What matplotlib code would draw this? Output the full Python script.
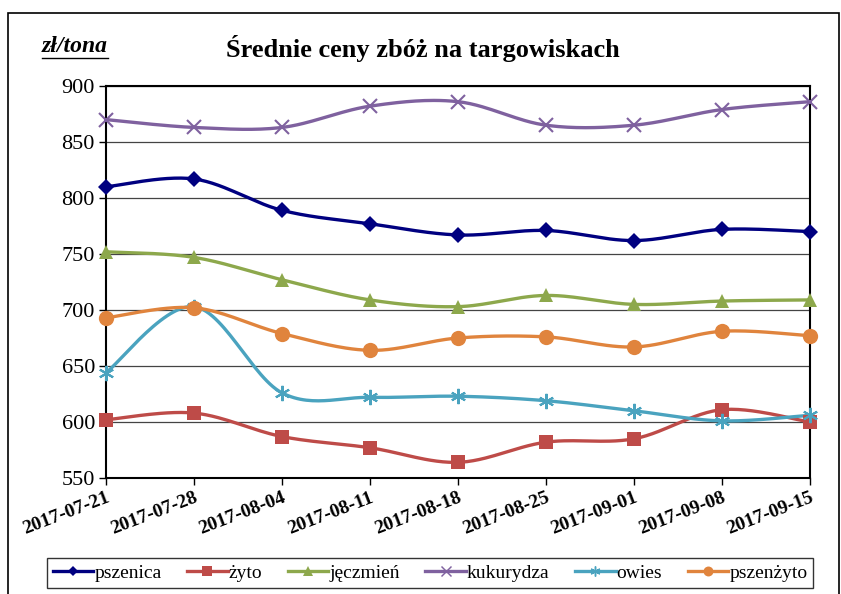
import numpy as np
import matplotlib
matplotlib.use("Agg")
import matplotlib.pyplot as plt
from matplotlib.lines import Line2D
from matplotlib.patches import Rectangle

plt.rcParams['font.family'] = ['Liberation Serif', 'DejaVu Serif']

dates = ["2017-07-21", "2017-07-28", "2017-08-04", "2017-08-11", "2017-08-18",
         "2017-08-25", "2017-09-01", "2017-09-08", "2017-09-15"]
pszenica = [810, 817, 789, 777, 767, 771, 762, 772, 770]
zyto = [602, 608, 587, 577, 564, 582, 585, 611, 600]
jeczmien = [752, 747, 727, 709, 703, 713, 705, 708, 709]
kukurydza = [870, 863, 863, 882, 886, 865, 865, 879, 886]
owies = [644, 703, 626, 622, 623, 619, 610, 601, 606]
pszenzyto = [693, 702, 679, 664, 675, 676, 667, 681, 677]

series = [
    ("pszenica", pszenica, "#000080", "D", 8),
    ("żyto", zyto, "#BE4B48", "s", 10),
    ("jęczmień", jeczmien, "#8DA84C", "^", 10),
    ("kukurydza", kukurydza, "#7F619F", "x", 10),
    ("owies", owies, "#4AA3BF", (6, 2, 0), 11),
    ("pszenżyto", pszenzyto, "#E0843D", "o", 11),
]


def smooth(x, y, n=30):
    # Catmull-Rom style smoothing, like Excel's "smoothed line"
    x = np.asarray(x, float)
    y = np.asarray(y, float)
    px = np.concatenate([[x[0]], x, [x[-1]]])
    py = np.concatenate([[y[0]], y, [y[-1]]])
    xs, ys = [], []
    t = np.linspace(0, 1, n)
    for i in range(1, len(px) - 2):
        p0, p1, p2, p3 = (np.array([px[j], py[j]]) for j in range(i - 1, i + 3))
        c1 = p1 + (p2 - p0) / 6
        c2 = p2 - (p3 - p1) / 6
        b = ((1 - t) ** 3)[:, None] * p1 + (3 * (1 - t) ** 2 * t)[:, None] * c1 \
            + (3 * (1 - t) * t ** 2)[:, None] * c2 + (t ** 3)[:, None] * p2
        xs.append(b[:, 0])
        ys.append(b[:, 1])
    return np.concatenate(xs), np.concatenate(ys)


fig = plt.figure(figsize=(8.41, 5.94), dpi=100)
fig.patches.append(Rectangle((8 / 841, -0.01), 831 / 841, 1 - 13 / 594 + 0.01,
                             transform=fig.transFigure, fill=False,
                             edgecolor="black", linewidth=1.2))

ax = fig.add_axes([106 / 841, 1 - 478 / 594, 704 / 841, 392 / 594])
x = np.arange(len(dates))
handles = []
for name, vals, color, marker, ms in series:
    sx, sy = smooth(x, vals)
    ax.plot(sx, sy, color=color, linewidth=2.4, zorder=3, clip_on=False)
    mew = 1.5 if marker in ("x", (6, 2, 0)) else 0
    ax.plot(x, vals, linestyle="none", marker=marker, markersize=ms, color=color,
            markeredgecolor=color, markeredgewidth=mew, zorder=4, clip_on=False)
    handles.append(Line2D([], [], color=color, linewidth=2.4, marker=marker,
                          markersize=ms * 0.65, markeredgewidth=mew * 0.7, label=name))

ax.set_xlim(0, len(dates) - 1)
ax.set_ylim(550, 900)
ax.set_yticks(np.arange(550, 901, 50))
ax.yaxis.grid(True, color="#444444", linewidth=0.9)
ax.set_axisbelow(True)
for s in ax.spines.values():
    s.set_linewidth(1.5)
    s.set_color("black")
ax.tick_params(axis="y", labelsize=16, length=5, width=1, direction="out", pad=3)
ax.tick_params(axis="x", length=5, width=1, direction="out", pad=3)
ax.set_xticks(x)
ax.set_xticklabels(dates, rotation=21, ha="right", rotation_mode="anchor",
                   fontsize=14, fontweight="bold")

fig.text(0.503, 1 - 48 / 594, "Średnie ceny zbóż na targowiskach", ha="center", va="center",
         fontsize=19, fontweight="bold")
fig.text(42 / 841, 1 - 47 / 594, "zł/tona", ha="left", va="center", fontsize=17,
         fontweight="bold", fontstyle="italic")
fig.add_artist(Line2D([42 / 841, 108 / 841], [1 - 58 / 594, 1 - 58 / 594], color="black",
                      linewidth=1.0, transform=fig.transFigure))

leg = fig.legend(handles=handles, loc="center", bbox_to_anchor=(430 / 841, 1 - 573 / 594),
                 ncol=6, fontsize=14, frameon=True, fancybox=False, edgecolor="black",
                 handlelength=2.1, handletextpad=0.05, columnspacing=1.3,
                 borderpad=0.3)
leg.get_frame().set_linewidth(1.0)

fig.savefig("out.png", dpi=100)
